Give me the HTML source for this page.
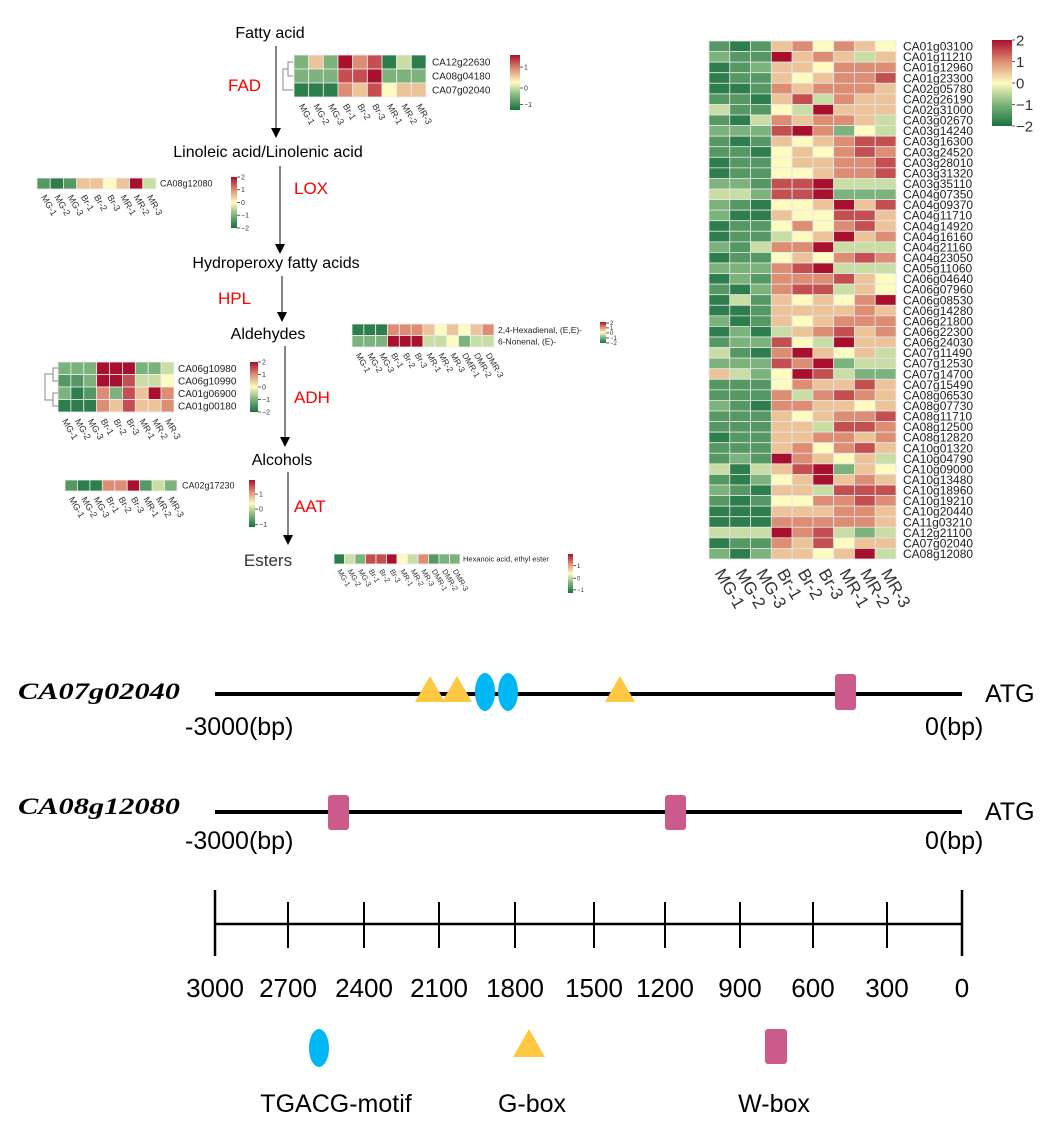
<!DOCTYPE html>
<html><head><meta charset="utf-8">
<style>
html,body{margin:0;padding:0;background:#fff;}
svg{display:block;font-family:"Liberation Sans",sans-serif;}
</style></head>
<body>
<svg id="s" width="1064" height="1137" viewBox="0 0 1064 1137" xmlns="http://www.w3.org/2000/svg">
<defs>
<linearGradient id="lg" x1="0" y1="0" x2="0" y2="1">
<stop offset="0" stop-color="#a8102e"/><stop offset="0.25" stop-color="#dd8d73"/><stop offset="0.5" stop-color="#fdfbc0"/><stop offset="0.75" stop-color="#7cb37c"/><stop offset="1" stop-color="#1a7040"/>
</linearGradient>
</defs>
<g id="hm"></g>
<g font-size="16" fill="#000" text-anchor="middle">
<text x="270" y="38">Fatty acid</text>
<text x="268" y="157">Linoleic acid/Linolenic acid</text>
<text x="276" y="268">Hydroperoxy fatty acids</text>
<text x="268" y="339">Aldehydes</text>
<text x="282" y="465">Alcohols</text>
<text x="268" y="566" font-size="17" fill="#333">Esters</text>
</g>
<g font-size="17" fill="#ff0000">
<text x="228" y="91">FAD</text>
<text x="294" y="194">LOX</text>
<text x="218" y="304">HPL</text>
<text x="294" y="403">ADH</text>
<text x="294" y="512">AAT</text>
</g>
<g stroke="#333" stroke-width="1.2">
<line x1="276" y1="46" x2="276" y2="128"/>
<line x1="280" y1="166" x2="280" y2="244"/>
<line x1="282" y1="276" x2="282" y2="312"/>
<line x1="285" y1="346" x2="285" y2="437"/>
<line x1="288" y1="472" x2="288" y2="535"/>
</g>
<g fill="#000">
<polygon points="271,128 281,128 276,138"/>
<polygon points="275,244 285,244 280,254"/>
<polygon points="277,312 287,312 282,322"/>
<polygon points="280,437 290,437 285,447"/>
<polygon points="283,535 293,535 288,545"/>
</g>
<g stroke="#888" stroke-width="1" fill="none">
<path d="M293,62 H288 V76 H293 M288,69 H283 V90 H293"/>
<path d="M58,368 H53 V381 H58 M53,374 H45 V400 H53 M58,393 H53 V406 H58"/>
</g>
<g style="font-family:'Liberation Serif',serif;font-style:italic;font-weight:bold" font-size="23">
<text x="18" y="699" textLength="162" lengthAdjust="spacingAndGlyphs">CA07g02040</text>
<text x="18" y="814" textLength="162" lengthAdjust="spacingAndGlyphs">CA08g12080</text>
</g>
<g stroke="#000" stroke-width="4">
<line x1="215" y1="694" x2="962" y2="694"/>
<line x1="215" y1="812" x2="962" y2="812"/>
</g>
<g font-size="25" fill="#000" style="font-family:'Liberation Sans Narrow','Liberation Sans',sans-serif">
<text x="985" y="702">ATG</text>
<text x="185" y="735">-3000(bp)</text>
<text x="925" y="735">0(bp)</text>
<text x="985" y="820">ATG</text>
<text x="185" y="849">-3000(bp)</text>
<text x="925" y="849">0(bp)</text>
</g>
<g fill="#fec843">
<polygon points="430,676 445,702 415,702"/>
<polygon points="457,676 472,702 442,702"/>
<polygon points="620,676 635,702 605,702"/>
<polygon points="529,1029 545,1057 513,1057"/>
</g>
<g fill="#00b7f5">
<ellipse cx="485" cy="692" rx="10" ry="19"/>
<ellipse cx="508" cy="692" rx="10" ry="19"/>
<ellipse cx="319" cy="1048" rx="10" ry="19"/>
</g>
<g fill="#cc5b8d">
<rect x="835" y="674" width="21" height="36" rx="3"/>
<rect x="328" y="795" width="21" height="35" rx="3"/>
<rect x="665" y="795" width="21" height="35" rx="3"/>
<rect x="765" y="1029" width="22" height="35" rx="3"/>
</g>
<g stroke="#000" stroke-width="2.5">
<line x1="215" y1="924" x2="962" y2="924"/>
<line x1="215" y1="890" x2="215" y2="956"/>
<line x1="962" y1="890" x2="962" y2="956"/>
</g>
<g id="ticks" stroke="#000" stroke-width="2"></g>
<g id="tl" font-size="26" text-anchor="middle" style="font-family:'Liberation Sans Narrow','Liberation Sans',sans-serif"></g>
<g font-size="25" text-anchor="middle" style="font-family:'Liberation Sans Narrow','Liberation Sans',sans-serif">
<text x="336" y="1112">TGACG-motif</text>
<text x="532" y="1112">G-box</text>
<text x="774" y="1112">W-box</text>
</g>
</svg>
<script>
var NS="http://www.w3.org/2000/svg";
var V={G:-1.8,g:-1.4,h:-1,l:-0.4,y:0,p:0.5,o:1,r:1.5,R:2};
var stops=[[-2,[26,112,64]],[-1,[124,179,124]],[0,[253,251,192]],[1,[221,141,115]],[2,[168,16,46]]];
function col(v){for(var i=0;i<4;i++){var a=stops[i],b=stops[i+1];if(v<=b[0]){var t=(v-a[0])/(b[0]-a[0]);return "rgb("+[0,1,2].map(function(k){return Math.round(a[1][k]+(b[1][k]-a[1][k])*t)}).join(",")+")";}}return "rgb(168,16,46)";}
function el(n,at,txt,parent){var e=document.createElementNS(NS,n);for(var k in at)e.setAttribute(k,at[k]);if(txt!==undefined)e.textContent=txt;(parent||document.getElementById("hm")).appendChild(e);return e;}
function heat(x0,y0,w,h,rows,names,nx,fs,cols,cfs,cdy,stroke){
  var nc=rows[0].length,cw=w/nc,rh=h/rows.length;
  rows.forEach(function(r,i){for(var j=0;j<nc;j++){el("rect",{x:x0+j*cw,y:y0+i*rh,width:cw,height:rh,fill:col(V[r[j]]),stroke:stroke||"#eee","stroke-width":0.8});}
    if(names)el("text",{x:nx,y:y0+i*rh+rh/2+fs*0.36,"font-size":fs,fill:"#222"},names[i]);});
  cols.forEach(function(c,j){var cx=x0+j*cw+cw/2-cfs*0.3,cy=y0+h+cdy;el("text",{x:cx,y:cy,"font-size":cfs,fill:"#333",transform:"rotate(60 "+cx+" "+cy+")"},c);});
}
function legend(x,y,w,h,labels,fs){el("rect",{x:x,y:y,width:w,height:h,fill:"url(#lg)"});
  labels.forEach(function(l){el("line",{x1:x+w,x2:x+w+3,y1:y+l[1]*h,y2:y+l[1]*h,stroke:"#333","stroke-width":0.8});el("text",{x:x+w+4,y:y+l[1]*h+fs*0.35,"font-size":fs,fill:"#333"},l[0]);});}
var C9=["MG-1","MG-2","MG-3","Br-1","Br-2","Br-3","MR-1","MR-2","MR-3"];
var C12=C9.concat(["DMR-1","DMR-2","DMR-3"]);
var big=["gGgpoyopy","hggRpoplp","Gghppyooo","Gggpypoor","GGgopooop","ggGprlopp","lggylRppp","gGlopoopl","hhhrRohyl","gGgpyporr","ggGypyoro","Gggyppoor","Gggyypoor","hhgrrRlll","llhrrRhhh","hgGyypRpr","hGGpyyrrp","Gggyoyorp","GgglypRpo","hglooRlll","Gggypyoro","hhhorRlll","Ghgooorpy","gGhorrlpy","GlgpypyoR",
"GGgppppop","hGgpypooo","GhGlporpo","ghhrylRpp","lgGoRpypl","hhhroRhll","plhyRrlhh","gggyopprp","gggolorop","hgGooppyp","gggpypoor","gggpplrro","Gggppoopo","gggpoyorp","ghgRopypl","lGlprRhpy","gGhypRpop","hgGpplrrr","gGgyyooro","GGGpppoop","GGGooooop","lllRorlhl","Gggoprypp","hGhppypRl"];
var bn=["CA01g03100","CA01g11210","CA01g12960","CA01g23300","CA02g05780","CA02g26190","CA02g31000","CA03g02670","CA03g14240","CA03g16300","CA03g24520","CA03g28010","CA03g31320","CA03g35110","CA04g07350","CA04g09370","CA04g11710","CA04g14920","CA04g16160","CA04g21160","CA04g23050","CA05g11060","CA06g04640","CA06g07960","CA06g08530","CA06g14280","CA06g21800","CA06g22300","CA06g24030","CA07g11490","CA07g12530","CA07g14700","CA07g15490","CA08g06530","CA08g07730","CA08g11710","CA08g12500","CA08g12820","CA10g01320","CA10g04790","CA10g09000","CA10g13480","CA10g18960","CA10g19210","CA10g20440","CA11g03210","CA12g21100","CA07g02040","CA08g12080"];
heat(709,41,187,518,big,bn,903,12,C9,17,14,"#e6e6e6");
legend(992,40,20,86,[["2",0],["1",0.25],["0",0.5],["\u22121",0.75],["\u22122",1]],15);
heat(294,55,132,42,["hphRorGlG","hhhrrRhhh","GGGoprypp"],["CA12g22630","CA08g04180","CA07g02040"],432,10,C9,9,9);
legend(510,55,10,55,[["1",0.22],["0",0.6],["\u22121",0.9]],7);
heat(37,178,119,11,["gGgppypRl"],["CA08g12080"],160,9,C9,9,8);
legend(231,177,6,51,[["2",0],["1",0.25],["0",0.5],["\u22121",0.75],["\u22122",1]],7);
heat(352,324,142,23,["GGGooopypypo","hhhRRRllyhll"],["2,4-Hexadienal, (E,E)-","6-Nonenal, (E)-"],498,8.5,C12,8.5,8);
legend(600,322,6,21,[["2",0.05],["1",0.28],["0",0.52],["\u22121",0.76],["\u22122",1]],6);
heat(58,362,116,50,["hhhRRRhhl","gghRRrlly","hGgohrpRo","GGGoprppo"],["CA06g10980","CA06g10990","CA01g06900","CA01g00180"],178,10,C9,9,9);
legend(250,362,8,50,[["2",0],["1",0.25],["0",0.5],["\u22121",0.75],["\u22122",1]],7);
heat(65,480,112,11,["gGGooRglh"],["CA02g17230"],182,9,C9,9,8);
legend(249,480,6,47,[["1",0.3],["0",0.62],["\u22121",0.95]],7);
heat(334,554,126,10,["GlhrrRyloghh"],["Hexanoic acid, ethyl ester"],463,7.5,C12,7.5,7);
legend(568,554,5,39,[["1",0.3],["0",0.62],["\u22121",0.92]],6);
var tx=[215,288,364,439,515,594,665,740,813,887,962],lab=["3000","2700","2400","2100","1800","1500","1200","900","600","300","0"];
tx.forEach(function(x,i){if(i>0&&i<10)el("line",{x1:x,x2:x,y1:902,y2:948},undefined,document.getElementById("ticks"));
  el("text",{x:x,y:997},lab[i],document.getElementById("tl"));});
</script>
</body></html>
